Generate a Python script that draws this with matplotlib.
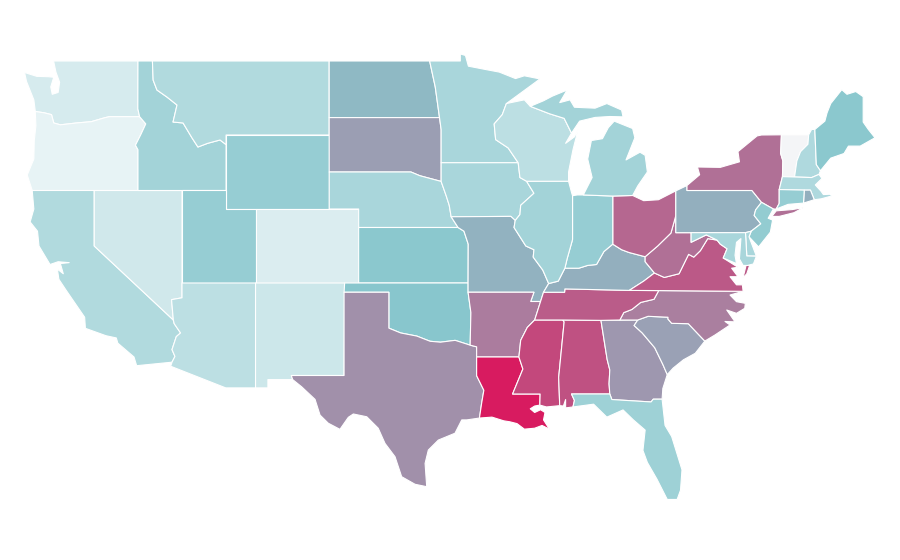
import matplotlib
matplotlib.use("Agg")
import matplotlib.pyplot as plt
from matplotlib.colors import LinearSegmentedColormap, Normalize

WA = [(-124.73,48.38),(-123.9,48.17),(-123.1,48.15),(-122.75,48.12),(-122.95,47.6),(-122.85,47.2),(-122.45,47.3),(-122.35,47.85),(-122.6,48.4),(-122.76,49),(-117.03,49),(-117.04,46.42),(-116.92,45.99),(-118.98,45.99),(-119.3,45.93),(-120.2,45.72),(-121.2,45.65),(-122.3,45.55),(-122.75,45.65),(-122.9,46.1),(-123.4,46.2),(-124,46.27),(-124.1,46.9),(-124.6,47.9)]
OR = [(-124,46.27),(-123.4,46.2),(-122.9,46.1),(-122.75,45.65),(-122.3,45.55),(-121.2,45.65),(-120.2,45.72),(-119.3,45.93),(-118.98,45.99),(-116.92,45.99),(-116.5,45.6),(-116.85,45),(-117.2,44.45),(-117.03,44.2),(-117.03,42),(-124.21,42),(-124.55,42.84),(-124.1,43.7),(-124.07,44.7),(-123.96,45.5)]
CA = [(-124.21,42),(-120,42),(-120,39),(-114.63,35),(-114.57,34.8),(-114.14,34.3),(-114.43,34.1),(-114.72,33.4),(-114.52,33.03),(-114.72,32.72),(-117.12,32.53),(-117.3,33),(-118.4,33.75),(-118.5,34.03),(-119.2,34.15),(-120.6,34.55),(-120.65,35.15),(-121.9,36.6),(-122.4,37.2),(-122.5,37.75),(-122.1,37.5),(-122.3,38.05),(-121.7,38.1),(-122.45,38.15),(-123,38),(-123.75,39),(-123.85,39.8),(-124.35,40.3),(-124.1,41)]
NV = [(-120,42),(-114.04,42),(-114.04,36.2),(-114.75,36.1),(-114.63,35),(-120,39)]
ID = [(-117.03,49),(-116.05,49),(-116.0,47.97),(-115.74,47.43),(-115.06,47.05),(-114.38,46.62),(-114.65,45.7),(-113.97,45.65),(-113.36,44.84),(-112.96,44.35),(-112.3,44.55),(-111.46,44.73),(-111.05,44.48),(-111.05,42),(-117.03,42),(-117.03,44.2),(-117.2,44.45),(-116.85,45),(-116.5,45.6),(-116.92,45.99),(-117.04,46.42)]
MT = [(-116.05,49),(-104.05,49),(-104.05,45),(-111.05,45),(-111.05,44.48),(-111.46,44.73),(-112.3,44.55),(-112.96,44.35),(-113.36,44.84),(-113.97,45.65),(-114.65,45.7),(-114.38,46.62),(-115.06,47.05),(-115.74,47.43),(-116.0,47.97)]
WY = [(-111.05,45),(-104.05,45),(-104.05,41),(-111.05,41)]
UT = [(-114.04,42),(-111.05,42),(-111.05,41),(-109.05,41),(-109.05,37),(-114.04,37)]
CO = [(-109.05,41),(-102.05,41),(-102.05,37),(-109.05,37)]
AZ = [(-114.04,37),(-109.05,37),(-109.05,31.33),(-111.07,31.33),(-114.81,32.5),(-114.72,32.72),(-114.52,33.03),(-114.72,33.4),(-114.43,34.1),(-114.14,34.3),(-114.57,34.8),(-114.63,35),(-114.75,36.1),(-114.04,36.2)]
NM = [(-109.05,37),(-103,37),(-103.04,32),(-106.62,32),(-106.53,31.78),(-108.21,31.78),(-108.21,31.33),(-109.05,31.33)]
ND = [(-104.05,49),(-97.23,49),(-96.85,47.6),(-96.56,45.94),(-104.05,45.94)]
SD = [(-104.05,45.94),(-96.56,45.94),(-96.45,45.3),(-96.45,43.5),(-96.45,42.49),(-97.9,42.8),(-98.5,43),(-104.05,43)]
NE = [(-104.05,43),(-98.5,43),(-97.9,42.8),(-96.45,42.49),(-96.1,41.7),(-95.9,41.2),(-95.77,40.58),(-95.3,40),(-102.05,40),(-102.05,41),(-104.05,41)]
KS = [(-102.05,40),(-95.3,40),(-94.9,39.8),(-94.61,39.1),(-94.62,37),(-102.05,37)]
OK = [(-103,37),(-94.62,37),(-94.62,36.5),(-94.43,35.4),(-94.48,33.64),(-95.5,33.9),(-96.5,33.8),(-97.2,33.85),(-98.1,34.13),(-99.2,34.3),(-100,34.56),(-100,36.5),(-103.04,36.5)]
TX = [(-106.62,32),(-103.04,32),(-103.04,36.5),(-100,36.5),(-100,34.56),(-99.2,34.3),(-98.1,34.13),(-97.2,33.85),(-96.5,33.8),(-95.5,33.9),(-94.48,33.64),(-94.04,33.55),(-94.04,33),(-94.04,31.99),(-93.55,31.2),(-93.7,30.5),(-93.85,29.7),(-94.71,29.6),(-95.05,29.6),(-95.51,28.88),(-96.64,28.51),(-97.32,27.97),(-97.54,27.25),(-97.43,25.99),(-98.22,26.12),(-99.13,26.53),(-99.58,27.61),(-100.26,28.33),(-100.72,29.15),(-101.5,29.77),(-102.41,29.92),(-102.75,29.74),(-103.32,29.09),(-104.11,29.42),(-104.67,29.86),(-105.01,30.71),(-105.92,31.39),(-106.53,31.78)]
MN = [(-97.23,49),(-95.15,49),(-95.15,49.38),(-94.8,49.3),(-94.6,48.72),(-93.5,48.55),(-92.5,48.4),(-91.4,48.05),(-90.8,48.2),(-89.74,48.03),(-92.02,46.7),(-92.3,46.1),(-92.85,45.6),(-92.75,44.75),(-91.9,44.3),(-91.22,43.5),(-96.45,43.5),(-96.45,45.3),(-96.56,45.94),(-96.85,47.6)]
IA = [(-96.45,43.5),(-91.22,43.5),(-91.1,42.7),(-90.65,42.5),(-90.15,41.85),(-91.05,41.2),(-91.1,40.7),(-91.42,40.38),(-91.72,40.6),(-95.77,40.58),(-95.9,41.2),(-96.1,41.7),(-96.45,42.49)]
MO = [(-95.77,40.58),(-91.72,40.6),(-91.42,40.38),(-91.5,40),(-90.7,39),(-90.15,38.8),(-90.2,38.4),(-89.55,37.7),(-89.15,36.97),(-89.5,36.5),(-89.7,36),(-90.37,36),(-90.15,36.5),(-94.62,36.5),(-94.62,37),(-94.61,39.1),(-94.9,39.8),(-95.3,40)]
AR = [(-94.62,36.5),(-90.15,36.5),(-90.37,36),(-89.7,36),(-90.1,35),(-90.6,34.6),(-91.05,33.9),(-91.17,33),(-94.04,33),(-94.04,33.55),(-94.48,33.64),(-94.43,35.4)]
LA = [(-94.04,33),(-91.17,33),(-90.9,32.35),(-91.6,31),(-89.73,31),(-89.75,30.4),(-90.1,30.35),(-90.4,30.2),(-90.1,30),(-89.7,30.15),(-89.4,30),(-89.5,29.6),(-89.1,29.1),(-89.6,29.3),(-90.1,29.15),(-90.8,29.1),(-91.3,29.4),(-91.8,29.5),(-92.2,29.55),(-93,29.75),(-93.85,29.7),(-93.7,30.5),(-93.55,31.2),(-94.04,31.99)]
MS = [(-90.1,35),(-88.2,35),(-88.1,34.9),(-88.47,31.9),(-88.4,30.37),(-89.3,30.3),(-89.75,30.4),(-89.73,31),(-91.6,31),(-90.9,32.35),(-91.17,33),(-91.05,33.9),(-90.6,34.6)]
AL = [(-88.2,35),(-85.6,34.98),(-85.18,32.87),(-85,32.3),(-85.05,31.55),(-85,31),(-87.6,31),(-87.4,30.65),(-87.5,30.3),(-88,30.25),(-88,30.7),(-88.15,30.35),(-88.4,30.37),(-88.47,31.9),(-88.1,34.9)]
GA = [(-85.6,34.98),(-83.1,35),(-83.35,34.7),(-82.8,34.3),(-81.95,33.5),(-81.4,32.6),(-81.1,32.05),(-81.4,31.3),(-81.45,30.72),(-82.05,30.72),(-82.2,30.57),(-84.86,30.7),(-85,31),(-85.05,31.55),(-85,32.3),(-85.18,32.87)]
FL = [(-87.6,31),(-85,31),(-84.86,30.7),(-82.2,30.57),(-82.05,30.72),(-81.45,30.72),(-81.25,29.3),(-80.8,28.7),(-80.1,26.9),(-80.2,25.8),(-80.43,25.3),(-81.1,25.3),(-81.8,26.4),(-82.45,27.3),(-82.75,27.95),(-82.6,29.05),(-83.4,29.6),(-84.1,30.14),(-85.2,29.75),(-86.1,30.45),(-87.5,30.3),(-87.4,30.65)]
SC = [(-83.1,35),(-82.4,35.2),(-81.05,35.15),(-81.05,35.05),(-80.8,34.82),(-79.67,34.8),(-78.55,33.86),(-79.2,33.2),(-80,32.85),(-80.7,32.4),(-81.1,32.05),(-81.4,32.6),(-81.95,33.5),(-82.8,34.3),(-83.35,34.7)]
NC = [(-84.32,35),(-83.1,35),(-82.4,35.2),(-81.05,35.15),(-81.05,35.05),(-80.8,34.82),(-79.67,34.8),(-78.55,33.86),(-77.86,34.19),(-76.84,34.73),(-77.18,34.92),(-76.5,34.9),(-77.06,35.54),(-76.4,35.36),(-75.84,35.63),(-75.8,35.9),(-76.4,35.99),(-76.84,36.35),(-75.95,36.55),(-81.68,36.59),(-82,36.12),(-82.9,35.95),(-83.5,35.57),(-84.05,35.4)]
TN = [(-89.7,36),(-89.5,36.5),(-88.07,36.5),(-88.05,36.68),(-83.68,36.6),(-81.68,36.59),(-82,36.12),(-82.9,35.95),(-83.5,35.57),(-84.05,35.4),(-84.32,35),(-85.6,34.98),(-88.2,35),(-90.1,35)]
KY = [(-89.5,36.5),(-89.15,36.97),(-88.5,37.1),(-88.05,37.8),(-87.1,37.8),(-86.5,37.95),(-85.9,38),(-85.4,38.7),(-84.8,39.1),(-84.2,38.8),(-83.7,38.65),(-82.6,38.42),(-82.6,38.15),(-81.97,37.54),(-82.7,37.1),(-83.68,36.6),(-88.05,36.68),(-88.07,36.5)]
VA = [(-83.68,36.6),(-81.68,36.59),(-75.95,36.55),(-76,36.9),(-76.4,36.9),(-76.84,37.34),(-76.3,37.34),(-76.73,37.8),(-76.3,37.85),(-77.3,38.35),(-77.04,38.85),(-77.5,39.1),(-77.72,39.32),(-78.35,39.4),(-78.85,38.75),(-79.3,38.4),(-79.65,38.55),(-80.3,37.5),(-81.3,37.3),(-81.97,37.54),(-82.7,37.1)]
VA_SHORE = [(-75.96,37.27),(-75.75,37.95),(-75.5,37.97),(-75.7,37.5)]
WV = [(-81.97,37.54),(-82.6,38.15),(-82.6,38.42),(-81.75,39),(-80.85,39.7),(-80.52,40.64),(-80.52,39.72),(-79.48,39.72),(-79.48,39.2),(-78.45,39.6),(-77.72,39.32),(-78.35,39.4),(-78.85,38.75),(-79.3,38.4),(-79.65,38.55),(-80.3,37.5),(-81.3,37.3)]
OH = [(-84.8,41.7),(-83.45,41.73),(-82.7,41.45),(-81.7,41.5),(-80.52,41.98),(-80.52,40.64),(-80.85,39.7),(-81.75,39),(-82.6,38.42),(-83.7,38.65),(-84.2,38.8),(-84.8,39.1)]
IN = [(-87.53,41.72),(-87.2,41.76),(-86.8,41.76),(-84.8,41.7),(-84.8,39.1),(-85.4,38.7),(-85.9,38),(-86.5,37.95),(-87.1,37.8),(-88.05,37.8),(-87.9,38.3),(-87.53,39.35)]
IL = [(-90.65,42.5),(-87.8,42.5),(-87.6,41.9),(-87.53,41.72),(-87.53,39.35),(-87.9,38.3),(-88.05,37.8),(-88.5,37.1),(-89.15,36.97),(-89.55,37.7),(-90.2,38.4),(-90.15,38.8),(-90.7,39),(-91.5,40),(-91.42,40.38),(-91.1,40.7),(-91.05,41.2),(-90.15,41.85)]
WI = [(-92.02,46.7),(-90.8,46.9),(-90.4,46.55),(-89.1,46.15),(-88.1,45.9),(-87.6,45.1),(-88,44.55),(-87.4,44.9),(-87.15,45.3),(-87.5,44.2),(-87.8,43),(-87.8,42.5),(-90.65,42.5),(-91.1,42.7),(-91.22,43.5),(-91.9,44.3),(-92.75,44.75),(-92.85,45.6),(-92.3,46.1)]
MI_LOWER = [(-86.8,41.76),(-84.8,41.7),(-83.45,41.73),(-83.1,42.25),(-82.45,43),(-82.6,43.9),(-82.95,44.07),(-83.9,43.65),(-83.3,44.85),(-83.45,45.35),(-84.7,45.75),(-85.1,45.4),(-85.5,44.8),(-86.25,44.7),(-86.5,43.7),(-86.2,42.7)]
MI_UPPER = [(-90.4,46.55),(-89.1,46.15),(-88.1,45.9),(-87.6,45.1),(-87.05,45.75),(-86,45.95),(-85,46),(-84.1,45.98),(-84.2,46.35),(-85.2,46.7),(-86,46.45),(-87.4,46.5),(-87.7,46.9),(-88.4,46.75),(-87.9,47.43),(-88.9,47.1),(-89.5,46.85)]
PA = [(-80.52,41.98),(-79.76,42.27),(-79.76,42),(-75.35,42),(-74.7,41.36),(-75.1,40.95),(-75.2,40.65),(-74.75,40.2),(-75.4,39.8),(-75.79,39.72),(-80.52,39.72)]
NY = [(-79.76,42.27),(-78.9,42.85),(-79.05,43.27),(-77.5,43.25),(-76.2,43.55),(-76.3,44.1),(-75,44.95),(-74.7,45),(-73.35,45.01),(-73.4,44),(-73.25,43.6),(-73.28,42.75),(-73.5,42.05),(-73.5,41.3),(-73.7,41),(-73.9,41),(-74.7,41.36),(-75.35,42),(-79.76,42)]
NY_ISLAND = [(-74,40.6),(-73.7,40.9),(-72.6,40.97),(-71.87,41.07),(-72.5,40.8),(-73.5,40.6)]
VT = [(-73.35,45.01),(-71.5,45.01),(-71.55,44.5),(-72.05,44.1),(-72.3,43.6),(-72.46,42.73),(-73.28,42.75),(-73.25,43.6),(-73.4,44)]
NH = [(-71.5,45.01),(-71.3,45.3),(-71.08,45.3),(-70.98,43.4),(-70.7,43.07),(-70.8,42.87),(-71.3,42.7),(-72.46,42.73),(-72.3,43.6),(-72.05,44.1),(-71.55,44.5)]
ME = [(-71.08,45.3),(-70.4,45.75),(-70.25,46.2),(-70,46.7),(-69.25,47.45),(-68.9,47.2),(-68.3,47.35),(-67.8,47.07),(-67.8,45.7),(-67.45,45.3),(-67,44.85),(-68,44.4),(-68.8,44.4),(-69.1,44),(-70,43.75),(-70.7,43.07),(-70.98,43.4)]
MA = [(-73.5,42.05),(-73.28,42.75),(-72.46,42.73),(-71.3,42.7),(-70.8,42.87),(-70.6,42.65),(-71.05,42.3),(-70.65,41.95),(-70.5,41.78),(-70,41.8),(-70.2,42.07),(-69.95,41.7),(-70.65,41.55),(-71.12,41.5),(-71.38,42.02),(-71.8,42.02)]
RI = [(-71.8,42.02),(-71.38,42.02),(-71.12,41.5),(-71.85,41.32)]
CT = [(-73.5,42.05),(-71.8,42.02),(-71.85,41.32),(-72.9,41.25),(-73.7,41),(-73.5,41.3)]
NJ = [(-74.7,41.36),(-73.9,41),(-74.25,40.5),(-73.95,40.4),(-74.1,39.75),(-74.9,38.95),(-75.55,39.5),(-75.4,39.8),(-74.75,40.2),(-75.2,40.65),(-75.1,40.95)]
DE = [(-75.79,39.72),(-75.4,39.8),(-75.55,39.5),(-75.05,38.45),(-75.7,38.46)]
MD = [(-79.48,39.72),(-75.79,39.72),(-75.7,38.46),(-75.05,38.45),(-75.25,38.03),(-75.65,37.95),(-75.95,37.95),(-76.2,38.3),(-76.1,39.4),(-76.4,39.2),(-76.5,38.5),(-76.4,38.05),(-77.3,38.35),(-77.04,38.85),(-77.5,39.1),(-77.72,39.32),(-78.45,39.6),(-79.48,39.2)]

STATE_SHAPES = {
    "WA": [WA], "OR": [OR], "CA": [CA], "NV": [NV], "ID": [ID], "MT": [MT], "WY": [WY], "UT": [UT],
    "CO": [CO], "AZ": [AZ], "NM": [NM], "ND": [ND], "SD": [SD], "NE": [NE], "KS": [KS], "OK": [OK],
    "TX": [TX], "MN": [MN], "IA": [IA], "MO": [MO], "AR": [AR], "LA": [LA], "MS": [MS], "AL": [AL],
    "GA": [GA], "FL": [FL], "SC": [SC], "NC": [NC], "TN": [TN], "KY": [KY], "VA": [VA, VA_SHORE],
    "WV": [WV], "OH": [OH], "IN": [IN], "IL": [IL], "WI": [WI], "MI": [MI_LOWER, MI_UPPER], "PA": [PA],
    "NY": [NY, NY_ISLAND], "VT": [VT], "NH": [NH], "ME": [ME], "MA": [MA], "RI": [RI], "CT": [CT],
    "NJ": [NJ], "DE": [DE], "MD": [MD],
}

STATE_VALUES = {
    "VT": 0, "OR": 6, "WA": 14, "CO": 12, "NV": 17, "NM": 18.5, "WI": 26, "AZ": 26, "MT": 31, "CA": 31,
    "NE": 35, "MN": 35, "IA": 35, "MI": 37.5, "ID": 37.5, "IL": 37.5, "FL": 40, "MA": 32, "NH": 32,
    "MD": 35, "DE": 35, "UT": 43.5, "WY": 43.5, "IN": 43.5, "CT": 43.5, "NJ": 45, "KS": 48.5, "OK": 50,
    "ME": 48.5, "ND": 54, "MO": 56, "PA": 57, "KY": 57, "RI": 57, "TN": 81, "SC": 61, "SD": 62, "GA": 64,
    "TX": 66, "AR": 71.5, "NC": 71, "NY": 75, "WV": 75, "OH": 78, "VA": 82, "AL": 84, "MS": 87, "LA": 100,
}

CMAP_STOPS = [0, 0.06, 0.5, 1]
CMAP_COLORS = ["#f4f5f7", "#e7f3f5", "#88c7cd", "#d81b60"]

cmap = LinearSegmentedColormap.from_list("choropleth", list(zip(CMAP_STOPS, CMAP_COLORS)))
norm = Normalize(0, 100)

fig = plt.figure(figsize=(9, 5.6), dpi=100)
ax = fig.add_axes([0, 0, 1, 1])
# plain linear lon/lat scale, as in the reference
ax.set_xlim(-126.397, -65.30)
ax.set_ylim(22.027, 52.297)
ax.axis("off")

for name, parts in STATE_SHAPES.items():
    for part in parts:
        lons, lats = zip(*part)
        ax.fill(lons, lats, facecolor=cmap(norm(STATE_VALUES[name])),
                edgecolor="white", linewidth=0.8, joinstyle="round")

fig.savefig("out.png", dpi=100, facecolor="white")
